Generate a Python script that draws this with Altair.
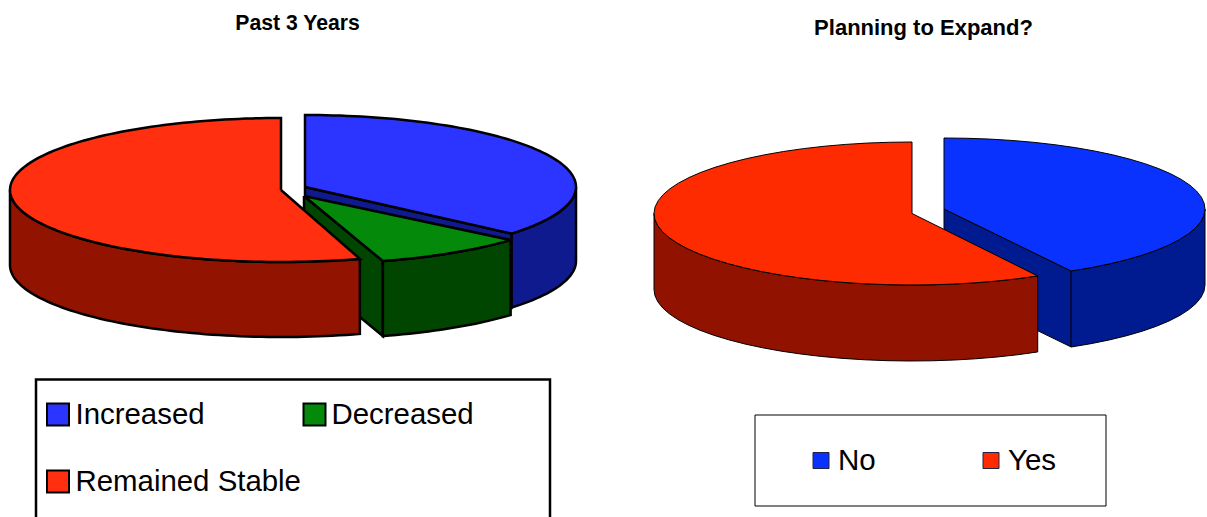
import math
import altair as alt
import pandas as pd

# Shares in percent, listed clockwise from twelve o'clock
past_labels = ["Increased", "Decreased", "Remained Stable"]
past_shares = [36.2, 9.1, 54.7]
plan_labels = ["No", "Yes"]
plan_shares = [41.9, 58.1]

W, H = 1207, 517
X = alt.X("x:Q", scale=alt.Scale(domain=[0, W]), axis=None)
Y = alt.Y("y:Q", scale=alt.Scale(domain=[H, 0]), axis=None)


def rim(cx, cy, a, b, t0, t1, step):
    """Points along an ellipse from angle t0 to t1 (degrees clockwise from the top)."""
    n = max(1, int(round((t1 - t0) / step)))
    pts = []
    for i in range(n + 1):
        t = math.radians(t0 + (t1 - t0) * i / n)
        pts.append((cx + a * math.sin(t), cy - b * math.cos(t)))
    return pts


def drum_slice(name, top, side, cx, cy, a, b, depth, t0, t1, step, cut_wall=False):
    """Polygons for one slice of a tilted drum: cut face, outer wall and top."""
    polys = []
    if cut_wall:
        p = rim(cx, cy, a, b, t1, t1, step)[0]
        polys.append((name + "-cut", side,
                      [(cx, cy), p, (p[0], p[1] + depth), (cx, cy + depth), (cx, cy)]))
    w0, w1 = max(t0, 90), min(t1, 270)
    if w1 > w0:
        arc = rim(cx, cy, a, b, w0, w1, step)
        low = [(x, y + depth) for x, y in reversed(arc)]
        polys.append((name + "-wall", side, arc + low + [arc[0]]))
    arc = rim(cx, cy, a, b, t0, t1, step)
    polys.append((name + "-top", top, [(cx, cy)] + arc + [(cx, cy)]))
    return polys


def rows(polys):
    out = []
    for name, color, pts in polys:
        for i, (x, y) in enumerate(pts):
            out.append({"piece": name, "fill": color, "seq": i, "x": x, "y": y})
    return pd.DataFrame(out)


def faces(polys, width):
    return alt.Chart(rows(polys)).mark_line(
        stroke="#000000", strokeWidth=width, strokeJoin="miter", interpolate="linear"
    ).encode(
        x=X, y=Y,
        detail="piece:N",
        order="seq:Q",
        fill=alt.Fill("fill:N", scale=None),
    )


def degrees(shares):
    edges = [0.0]
    for s in shares:
        edges.append(edges[-1] + s * 3.6)
    return edges


p = degrees(past_shares)
past = (
    drum_slice("increased", "#2B35FF", "#0E1A8E", 305, 187, 271, 72, 74, p[0], p[1], 1.5, cut_wall=True)
    + drum_slice("decreased", "#05890A", "#004500", 304, 196, 271, 68, 75, p[1], p[2], 1.5, cut_wall=True)
    + drum_slice("stable", "#FF2F0F", "#921400", 281, 190, 271, 72, 75, p[2], p[3], 1.5)
)

q = degrees(plan_shares)
plan = (
    drum_slice("no", "#0A32FF", "#001A90", 944, 209, 261, 71, 76, q[0], q[1], 5, cut_wall=True)
    + drum_slice("yes", "#FF2B00", "#921200", 912, 213.5, 258, 71.5, 76, q[1], q[2], 5)
)

# Chart titles
left_title = alt.Chart(pd.DataFrame([{"x": 297.5, "y": 23.5, "t": "Past 3 Years"}])).mark_text(
    font="Liberation Sans", fontWeight="bold", fontSize=21.2, color="#000000", baseline="middle"
).encode(x=X, y=Y, text="t:N")
right_title = alt.Chart(pd.DataFrame([{"x": 923.5, "y": 27.5, "t": "Planning to Expand?"}])).mark_text(
    font="Liberation Sans", fontWeight="bold", fontSize=22, color="#000000", baseline="middle"
).encode(x=X, y=Y, text="t:N")

# Legend frames: the left one runs off the bottom of the page
frame_left = pd.DataFrame({"x": [36, 36, 550, 550], "y": [H, 379.5, 379.5, H], "seq": [0, 1, 2, 3]})
frame_left_layer = alt.Chart(frame_left).mark_line(
    color="#000000", strokeWidth=2.5, strokeJoin="miter"
).encode(x=X, y=Y, order="seq:Q")

frame_right = pd.DataFrame([{"x": 755, "x2": 1106, "y": 415, "y2": 506}])
frame_right_layer = alt.Chart(frame_right).mark_rect(
    fill="#FFFFFF", stroke="#000000", strokeWidth=1
).encode(x=X, x2="x2:Q", y=Y, y2="y2:Q")

# Legend keys
keys_left = pd.DataFrame([
    {"x": 47, "x2": 69, "y": 403.5, "y2": 425.5, "c": "#2B35FF"},
    {"x": 303.5, "x2": 325.5, "y": 403.5, "y2": 425.5, "c": "#05890A"},
    {"x": 47, "x2": 69, "y": 470.5, "y2": 492.5, "c": "#FF2F0F"},
])
keys_left_layer = alt.Chart(keys_left).mark_rect(stroke="#000000", strokeWidth=2).encode(
    x=X, x2="x2:Q", y=Y, y2="y2:Q", fill=alt.Fill("c:N", scale=None)
)
keys_right = pd.DataFrame([
    {"x": 813, "x2": 829, "y": 452.5, "y2": 468.5, "c": "#0A32FF"},
    {"x": 983, "x2": 999, "y": 452.5, "y2": 468.5, "c": "#FF2B00"},
])
keys_right_layer = alt.Chart(keys_right).mark_rect(stroke="#222244", strokeWidth=1).encode(
    x=X, x2="x2:Q", y=Y, y2="y2:Q", fill=alt.Fill("c:N", scale=None)
)

# Legend labels
labels_left = pd.DataFrame([
    {"x": 75.5, "y": 424, "t": past_labels[0]},
    {"x": 331.5, "y": 424, "t": past_labels[1]},
    {"x": 75.5, "y": 491, "t": past_labels[2]},
])
labels_left_layer = alt.Chart(labels_left).mark_text(
    font="Liberation Sans", fontSize=29.4, color="#000000", align="left", baseline="alphabetic"
).encode(x=X, y=Y, text="t:N")
labels_right = pd.DataFrame([
    {"x": 838, "y": 470, "t": plan_labels[0]},
    {"x": 1008, "y": 470, "t": plan_labels[1]},
])
labels_right_layer = alt.Chart(labels_right).mark_text(
    font="Liberation Sans", fontSize=29.5, color="#000000", align="left", baseline="alphabetic"
).encode(x=X, y=Y, text="t:N")

chart = alt.layer(
    faces(past, 2.5),
    faces(plan, 1),
    left_title,
    right_title,
    frame_left_layer,
    frame_right_layer,
    keys_left_layer,
    keys_right_layer,
    labels_left_layer,
    labels_right_layer,
).properties(
    width=W, height=H, padding=0, autosize=alt.AutoSizeParams(type="none"), background="#FFFFFF"
).configure_view(stroke=None)

chart.save("out.html", embed_options={"renderer": "svg", "actions": False})
